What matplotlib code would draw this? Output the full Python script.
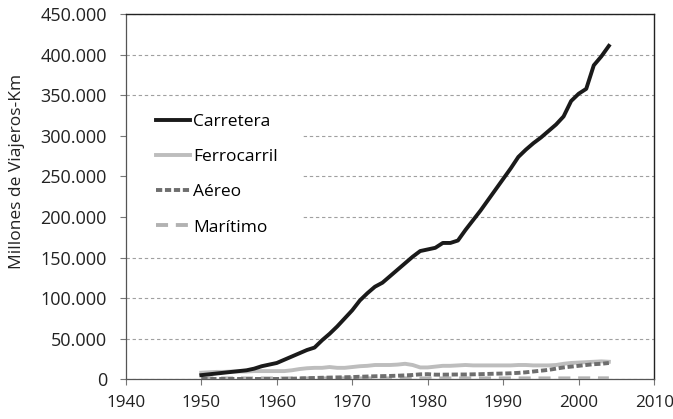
import matplotlib

matplotlib.use("Agg")

import matplotlib.pyplot as plt
from matplotlib.patches import Rectangle
from matplotlib.ticker import FuncFormatter, MultipleLocator

plt.rcParams["font.family"] = ["Open Sans", "DejaVu Sans"]

years = list(range(1950, 2005))

carretera = [
    5000, 6000, 7000, 8000, 9000, 10000, 11000, 13000, 16000, 18000,
    20000, 24000, 28000, 32000, 36000, 39000, 48000, 56000, 65000, 75000,
    85000, 97000, 106000, 114000, 119000, 127000, 135000, 143000, 151000, 158000,
    160000, 162000, 168000, 168000, 171000, 184000, 196000, 208000, 221000, 234000,
    247000, 260000, 274000, 283000, 291000, 298000, 306000, 314000, 324000, 343000,
    352000, 358000, 387000, 398000, 411000,
]
ferrocarril = [
    8000, 8500, 9000, 9000, 9500, 9500, 9500, 10000, 10000, 10000,
    10000, 10000, 11000, 12500, 13500, 14000, 14000, 15000, 14000, 14000,
    15000, 16000, 16500, 17500, 17500, 17500, 18000, 19000, 17500, 14500,
    14500, 15500, 16500, 16500, 17000, 17500, 17000, 17000, 17000, 17000,
    17000, 17000, 17500, 17500, 17000, 17000, 17000, 17500, 19000, 20000,
    20500, 21000, 21500, 22000, 21500,
]
aereo = [
    300, 300, 300, 300, 300, 300, 300, 300, 300, 300,
    300, 400, 600, 900, 1200, 1500, 1800, 2000, 2200, 2400,
    2600, 3000, 3300, 3600, 3800, 4000, 4300, 4700, 5200, 6000,
    6200, 5600, 5600, 5700, 5800, 5800, 6000, 6200, 6500, 6800,
    7000, 7300, 7800, 8500, 9500, 10500, 11500, 13000, 14500, 15500,
    16500, 17500, 18500, 19000, 20000,
]
maritimo = [
    1000, 1000, 1000, 1000, 1000, 1000, 1000, 1000, 1000, 1000,
    1000, 1000, 1000, 1000, 1000, 1000, 1000, 1000, 1000, 1000,
    1000, 1000, 1000, 1000, 1000, 1000, 1000, 1000, 1000, 1000,
    1000, 1000, 1000, 1000, 1000, 1000, 1000, 1000, 1000, 1000,
    1000, 1000, 1000, 1000, 1000, 1000, 1000, 1000, 1000, 1000,
    1100, 1100, 1100, 1100, 1100,
]

figure, axis = plt.subplots(figsize=(6.73, 4.19), dpi=100)
figure.subplots_adjust(left=0.187, right=0.972, top=0.966, bottom=0.095)

lw = 2.8
axis.plot(years, maritimo, color="#b2b2b2", lw=lw, dashes=(3.1, 2.0), label="Marítimo", zorder=3)
axis.plot(years, aereo, color="#6e6e6e", lw=lw, dashes=(1.6, 0.7), label="Aéreo", zorder=4)
axis.plot(years, ferrocarril, color="#bdbdbd", lw=lw, label="Ferrocarril", zorder=3)
axis.plot(years, carretera, color="#1a1a1a", lw=lw, label="Carretera", zorder=5)

axis.set_xlim(1940, 2010)
axis.set_ylim(0, 450000)
axis.xaxis.set_major_locator(MultipleLocator(10))
axis.yaxis.set_major_locator(MultipleLocator(50000))
axis.yaxis.set_major_formatter(
    FuncFormatter(lambda v, pos: f"{int(v):,}".replace(",", "."))
)
axis.grid(axis="y", color="#a0a0a0", linestyle=(0, (3, 2.5)), lw=0.8)
axis.set_axisbelow(True)

# white block behind the legend, hides the grid like in the original
axis.add_patch(Rectangle((0, 0.38), 0.333, 0.385, transform=axis.transAxes,
                         facecolor="white", edgecolor="none", zorder=1.5))

for side in ["top", "right"]:
    axis.spines[side].set_color("#222222")
    axis.spines[side].set_linewidth(1.0)
for side in ["left", "bottom"]:
    axis.spines[side].set_color("#555555")
    axis.spines[side].set_linewidth(0.9)
axis.tick_params(direction="out", length=4, width=0.8, colors="#777777",
                 labelcolor="#222222", labelsize=13)
axis.tick_params(axis="y", pad=9.6)
axis.tick_params(axis="x", pad=7.5, labelsize=12.3)

axis.set_ylabel("Millones de Viajeros-Km", fontsize=12.5, color="#222222")
axis.yaxis.set_label_coords(-0.191, 0.57)

handles, labels = axis.get_legend_handles_labels()
order = [3, 2, 1, 0]
legend = axis.legend(
    [handles[i] for i in order],
    [labels[i] for i in order],
    loc="upper left",
    bbox_to_anchor=(0.035, 0.761),
    frameon=False,
    fontsize=12.5,
    handlelength=1.95,
    handletextpad=0.15,
    labelspacing=1.1,
    borderpad=0.2,
)
legend.set_zorder(6)

figure.savefig("out.png", dpi=100)
plt.close(figure)
